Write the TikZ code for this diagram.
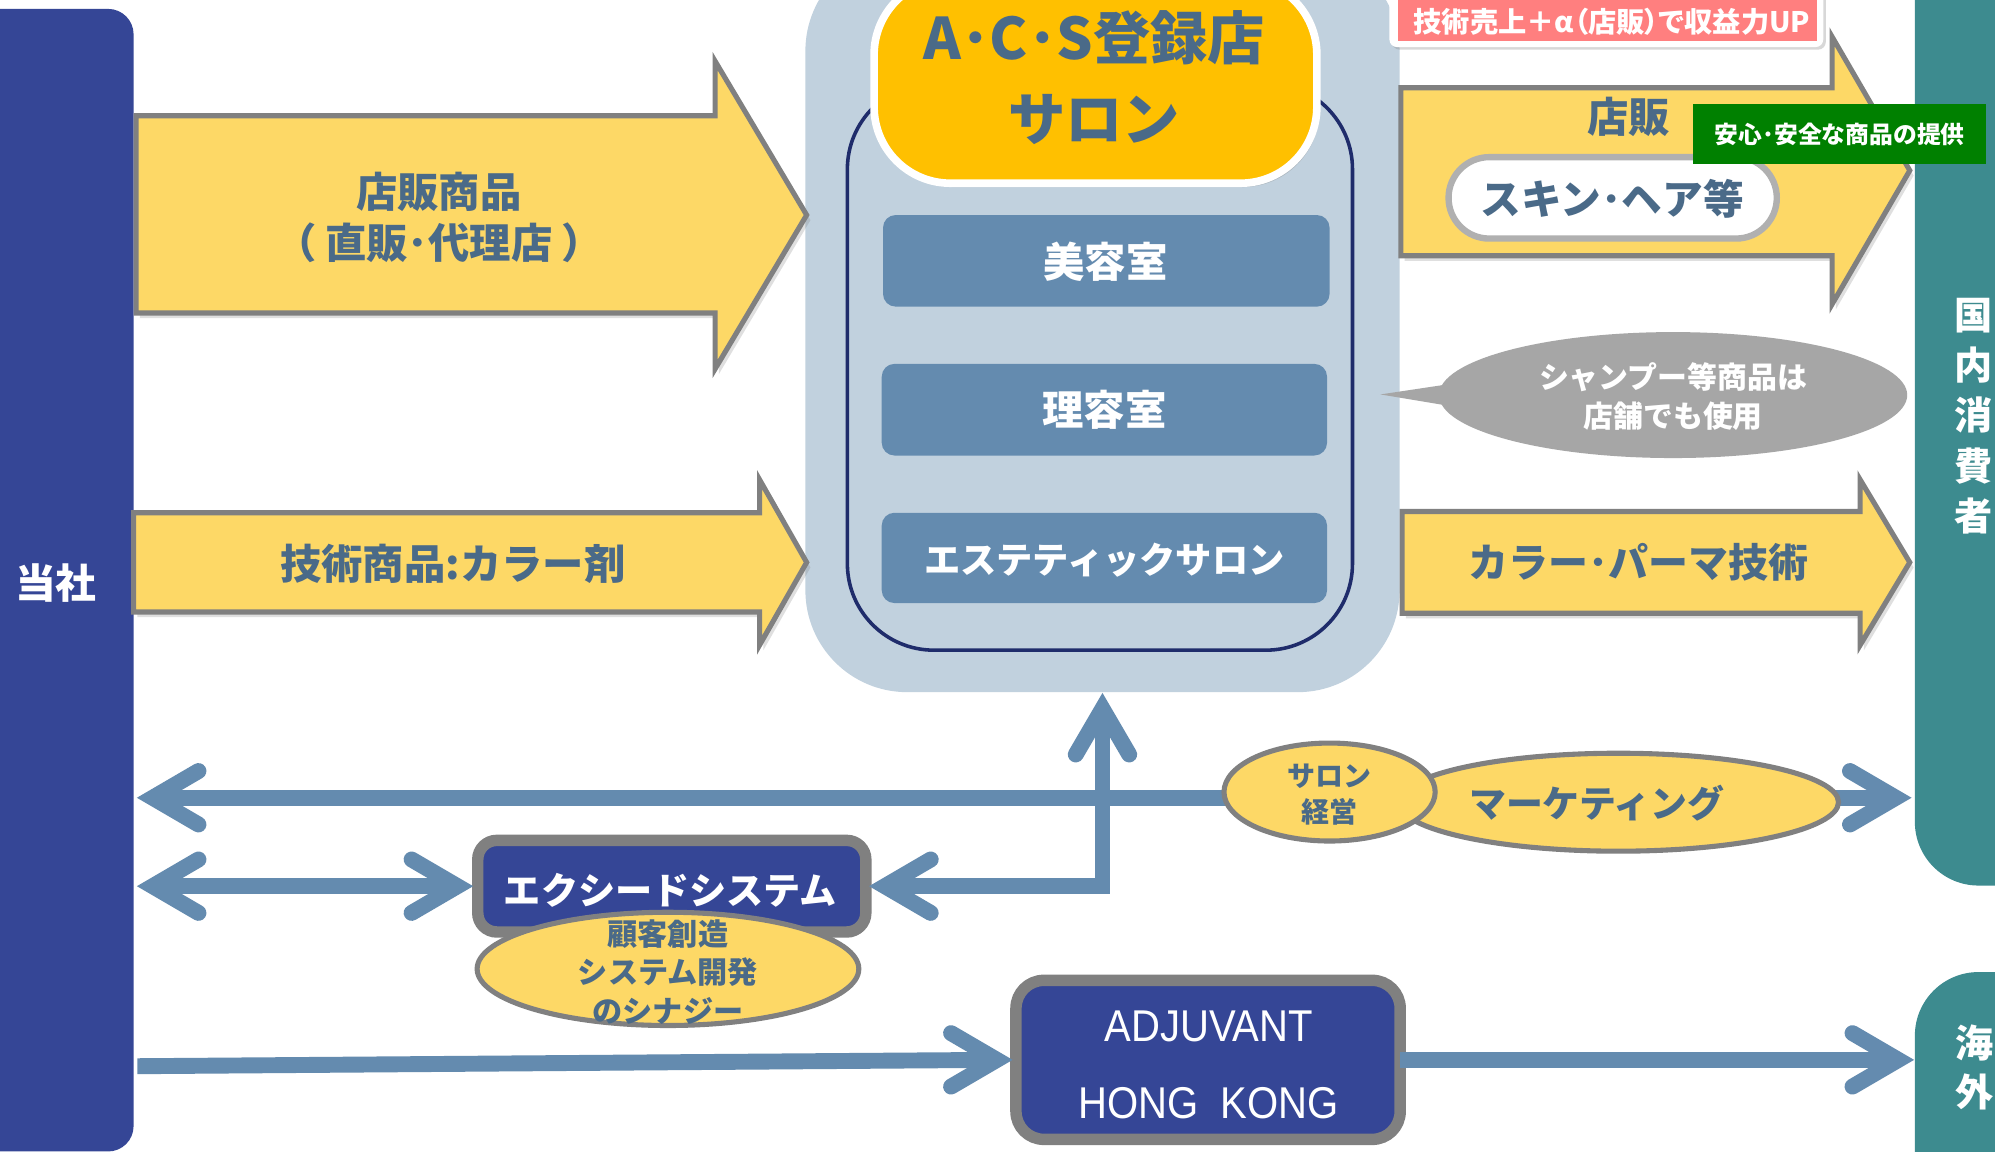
\documentclass[tikz,border=0pt]{standalone}
\usepackage{fontspec}
\setmainfont{Noto Sans CJK JP}
\newfontfamily\jpp{Noto Sans CJK JP}[RawFeature=+palt]
\newfontfamily\lat{Liberation Sans}
\usetikzlibrary{shapes.geometric,calc,fit,shadows}
\definecolor{cNavy}{HTML}{354696}
\definecolor{cTeal}{HTML}{3D8B8F}
\definecolor{cLight}{HTML}{C1D1DE}
\definecolor{cSteel}{HTML}{648BAF}
\definecolor{cYel}{HTML}{FDD866}
\definecolor{cOrange}{HTML}{FFC000}
\definecolor{cGray}{HTML}{808080}
\definecolor{cCall}{HTML}{A6A6A6}
\definecolor{cPink}{HTML}{FF7F7F}
\definecolor{cGreen}{HTML}{008000}
\definecolor{cLine}{HTML}{1F2C6B}
\definecolor{cText}{HTML}{4A6A88}
\definecolor{cSkin}{HTML}{B0B0B0}
\newcommand\fb[2]{\bfseries\fontsize{#1pt}{#2pt}\selectfont}
\begin{document}
\begin{tikzpicture}[x=0.5pt,y=-0.5pt,
  fbox/.style={inner sep=0pt,outer sep=0pt},
  txt/.style={inner sep=0pt,outer sep=0pt,text=cText,align=center},
  wtxt/.style={inner sep=0pt,outer sep=0pt,text=white,align=center},
  yarrow/.style={fill=cYel,draw=cGray,line width=2pt,line join=miter,
    drop shadow={opacity=0.25,shadow xshift=1.5pt,shadow yshift=-2pt}},
  stbox/.style={fbox,fill=cSteel,rounded corners=5pt},
  yell/.style={ellipse,fill=cYel,draw=cGray,line width=2pt,inner sep=0pt},
  conn/.style={draw=cSteel,line width=6.25pt,line cap=butt,line join=miter},
  chev/.style={draw=cSteel,line width=6.25pt,line cap=round,line join=miter},
]
\useasboundingbox (0,0) rectangle (1568,905);
\clip (0,0) rectangle (1568,905);
\fill[white] (0,0) rectangle (1568,905);

% ---------- central salon block ----------
\node[fbox,fit={(633,-40) (1100,544)},fill=cLight,rounded corners=40pt] (light) {};
\node[fbox,fit={(666,65) (1063,511)},draw=cLine,line width=1.4pt,rounded corners=34pt] (inner) {};
\node[stbox,fit={(694,169) (1045,241)}] (biyo) {};
\node[wtxt,font=\fb{16.25}{19}] (biyot) at (869,206) {美容室};
\node[stbox,fit={(693,286) (1043,358)}] (riyo) {};
\node[wtxt,font=\fb{16.25}{19}] (riyot) at (868,322) {理容室};
\node[stbox,fit={(693,403) (1043,474)}] (este) {};
\node[wtxt,font=\fb{14.25}{17}] (estet) at (868,440) {エステティックサロン};
\node[fbox,fit={(687,-17) (1035,144)},fill=cOrange,draw=white,line width=3pt,rounded corners=30pt,
  drop shadow={opacity=0.3,shadow xshift=1pt,shadow yshift=-1.5pt}] (acs) {};
\node[txt,font=\fb{22.5}{32}] (acst) at (860,61) {A･C･S登録店\\サロン};

% ---------- side bars ----------
\node[fbox,fit={(1505,-60) (1650,696)},fill=cTeal,rounded corners=25pt] (kokunai) {};
\node[wtxt,font=\fb{15}{19.75}] (kokunait) at (1551,327) {国\\内\\消\\費\\者};
\node[fbox,fit={(1505,764) (1650,980)},fill=cTeal,rounded corners=25pt] (kaigai) {};
\node[wtxt,font=\fb{15}{19}] (kaigait) at (1552,839) {海\\外};
\node[fbox,fit={(-40,7) (105,905)},fill=cNavy,rounded corners=10pt] (tosha) {};
\node[wtxt,font=\fb{16}{19}] (toshat) at (44,458) {当社};

% ---------- yellow arrows ----------
\path[yarrow] (107,91) -- (562,91) -- (562,48) -- (634,169) -- (562,290) -- (562,246) -- (107,246) -- cycle;
\node[txt,font=\fb{16.25}{20}] (a1t) at (345,171) {店販商品\\\jpp （\hspace{4pt}直販･代理店\hspace{4pt}）};
\path[yarrow] (105,403) -- (597,403) -- (597,377) -- (634,442) -- (597,507) -- (597,481) -- (105,481) -- cycle;
\node[txt,font=\fb{16.25}{19}] (a2t) at (356,443) {技術商品:カラー剤};
\path[yarrow] (1101,69) -- (1440,69) -- (1440,29) -- (1501,134) -- (1440,239) -- (1440,201) -- (1101,201) -- cycle;
\node[txt,font=\fb{16.25}{19}] (a3t) at (1280,92) {店販};
\node[fbox,fit={(1138.5,123.5) (1396.5,187.5)},fill=white,draw=cSkin,line width=2.5pt,rounded corners=16pt] (skin) {};
\node[txt,font=\fb{16}{19}] (skint) at (1267,156) {スキン･ヘア等};
\path[yarrow] (1102,402) -- (1462,402) -- (1462,377) -- (1501,442) -- (1462,507) -- (1462,482) -- (1102,482) -- cycle;
\node[txt,font=\fb{15.7}{19}] (a4t) at (1288,442) {カラー･パーマ技術};

% ---------- labels ----------
\node[fbox,fit={(1092,-20) (1433,37)},fill=white,rounded corners=3pt,
  drop shadow={opacity=0.3,shadow xshift=1pt,shadow yshift=-1pt}] (pinkw) {};
\node[fbox,fit={(1099,-20) (1428,32)},fill=cPink] (pink) {};
\node[wtxt,font=\jpp\fb{11.1}{13}] (pinkt) at (1267,17) {技術売上＋α（店販）で収益力UP};
\node[fbox,fit={(1331,82) (1561,129)},fill=cGreen] (green) {};
\node[wtxt,font=\fb{9.35}{11}] (greent) at (1446,106) {安心･安全な商品の提供};

% ---------- callout ----------
\node[ellipse,fill=cCall,minimum width=184pt,minimum height=49.5pt,inner sep=0pt] (call) at (1315,310.5) {};
\coordinate (callTip) at (1085,310);
\fill[cCall] (callTip) -- ($(call.center)+(-170,-9.5)$) -- ($(call.center)+(-170,9.5)$) -- cycle;
\node[wtxt,font=\fb{11.75}{15.5}] (callt) at (1315,311.5) {シャンプー等商品は\\店舗でも使用};

% ---------- boxes of lower part ----------
\node[fbox,fit={(375.5,660.5) (680.5,732.5)},fill=cNavy,draw=cGray,line width=4.5pt,rounded corners=7.5pt] (exs) {};
\node[fbox,fit={(798.5,770.5) (1100.5,895.5)},fill=cNavy,draw=cGray,line width=4.5pt,rounded corners=11pt] (adj) {};

% ---------- connectors ----------
\coordinate (vL1) at (120,627);
\coordinate (vR1) at (1490,627);
\coordinate (vL2) at (120,696.5);
\coordinate (vE1) at ($(exs.west)+(-16,0)$);
\coordinate (vE2) at ($(exs.east)+(15,0)$);
\coordinate (elb) at (866.5,696.5);
\coordinate (vUp) at ($(light.south)+(0,13)$);
\coordinate (b0) at (108,838);
\coordinate (vA1) at ($(adj.west)+(-15,0)$);
\coordinate (vA2) at ($(kaigai.west |- adj.east)+(-13,0)$);

\draw[conn] (vL1) -- (vR1);
\draw[chev] ($(vL1)+(36,-21)$) -- (vL1) -- ($(vL1)+(36,21)$);
\draw[chev] ($(vR1)+(-36,-21)$) -- (vR1) -- ($(vR1)+(-36,21)$);

\draw[conn] (vL2) -- (vE1);
\draw[chev] ($(vL2)+(36,-21)$) -- (vL2) -- ($(vL2)+(36,21)$);
\draw[chev] ($(vE1)+(-36,-21)$) -- (vE1) -- ($(vE1)+(-36,21)$);

\draw[conn] (vE2) -- (elb) -- (vUp);
\draw[chev] ($(vE2)+(36,-21)$) -- (vE2) -- ($(vE2)+(36,21)$);
\draw[chev] ($(vUp)+(-21,36)$) -- (vUp) -- ($(vUp)+(21,36)$);

\draw[conn] (b0) -- (vA1);
\draw[chev] ($(vA1)+(-36,-21)$) -- (vA1) -- ($(vA1)+(-36,21)$);

\draw[conn] (adj.east) -- (vA2);
\draw[chev] ($(vA2)+(-36,-21)$) -- (vA2) -- ($(vA2)+(-36,21)$);

% ---------- texts and ellipses of lower part ----------
\node[wtxt,font=\fb{14.6}{17}] (exst) at (527,700) {エクシードシステム};
\node[yell,minimum width=150pt,minimum height=44.5pt] (syn) at (525,761.5) {};
\node[txt,font=\fb{11.85}{15.25}] (synt) at (525,764) {顧客創造\\システム開発\\のシナジー};
\node[wtxt,font=\lat\fontsize{17.5pt}{30pt}\selectfont] (adjt) at (950,837) {\scalebox{0.9}[1]{ADJUVANT}\\\scalebox{0.9}[1]{HONG\ \ KONG}};
\node[yell,minimum width=173pt,minimum height=38.5pt] (mkt) at (1272,630.5) {};
\node[txt,font=\fb{14.5}{17}] (mktt) at (1255,631) {マーケティング};
\node[yell,minimum width=83pt,minimum height=38.5pt] (salon) at (1045,622.5) {};
\node[txt,font=\fb{11}{14.5}] (salont) at (1045,624.5) {サロン\\経営};
\end{tikzpicture}
\end{document}
